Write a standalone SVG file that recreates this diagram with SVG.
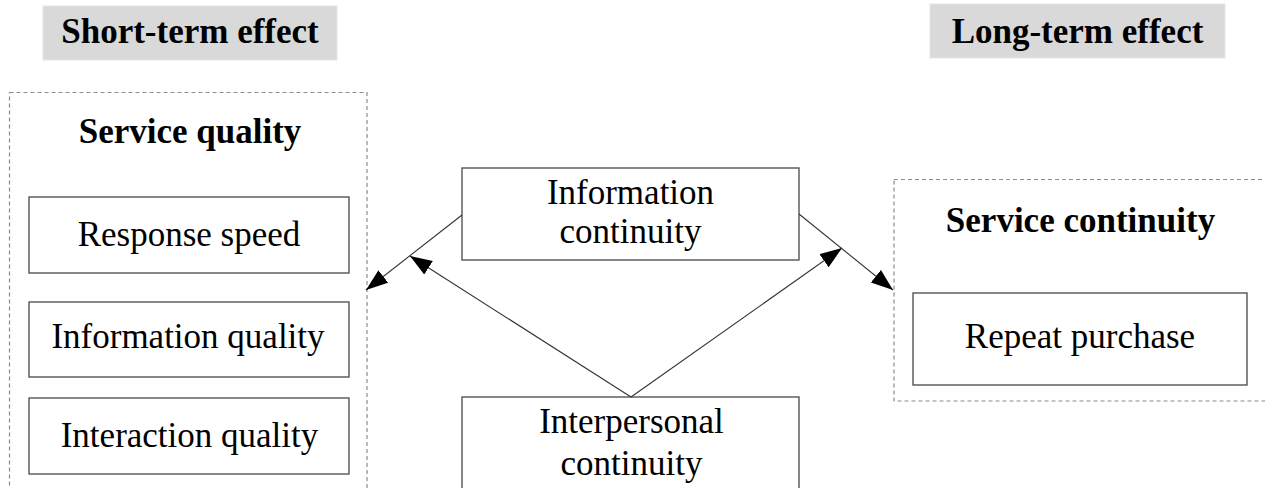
<svg xmlns="http://www.w3.org/2000/svg" width="1265" height="488" viewBox="0 0 1265 488">
<style>
  .hdr { fill: #d9d9d9; stroke: #e6e6e6; stroke-width: 1; }
  .grp { fill: none; stroke: #8c8c8c; stroke-width: 1.2; stroke-dasharray: 4 3; }
  .box { fill: #ffffff; stroke: #555555; stroke-width: 1.4; }
  .t { font-family: 'Times New Roman', 'Liberation Serif', serif; font-size: 35px; fill: #000; text-anchor: middle; }
  .b { font-weight: bold; }
  .conn { stroke: #333333; stroke-width: 1.1; fill: none; marker-end: url(#arr); }
</style>
<defs>
  <marker id="arr" markerUnits="userSpaceOnUse" markerWidth="24" markerHeight="18" refX="22" refY="8" orient="auto">
    <path d="M0,0 L22,8 L0,16 z" fill="#000"/>
  </marker>
</defs>
<rect width="1265" height="488" fill="#ffffff"/>

<g id="short-term-effect">
  <rect class="hdr" x="43" y="6" width="294" height="54"/>
  <text class="t b" x="190" y="43">Short-term effect</text>
</g>
<g id="long-term-effect">
  <rect class="hdr" x="930" y="4" width="295" height="54"/>
  <text class="t b" x="1077.5" y="43">Long-term effect</text>
</g>

<g id="service-quality">
  <rect class="grp" x="9.5" y="92.5" width="357.5" height="420"/>
  <text class="t b" x="190" y="143">Service quality</text>
</g>
<g id="response-speed">
  <rect class="box" x="29" y="197" width="320" height="76"/>
  <text class="t" x="189" y="246">Response speed</text>
</g>
<g id="information-quality">
  <rect class="box" x="29" y="302" width="320" height="75"/>
  <text class="t" x="188" y="348">Information quality</text>
</g>
<g id="interaction-quality">
  <rect class="box" x="29" y="398" width="320" height="76"/>
  <text class="t" x="189.5" y="447">Interaction quality</text>
</g>

<g id="information-continuity">
  <rect class="box" x="462" y="168" width="337" height="92"/>
  <text class="t" x="630.5" y="204">Information</text>
  <text class="t" x="630.5" y="243">continuity</text>
</g>
<g id="interpersonal-continuity">
  <rect class="box" x="462" y="397" width="337" height="110"/>
  <text class="t" x="631.5" y="433">Interpersonal</text>
  <text class="t" x="631.5" y="475">continuity</text>
</g>

<g id="service-continuity">
  <rect class="grp" x="894" y="179.5" width="390" height="221.5"/>
  <text class="t b" x="1080.5" y="232">Service continuity</text>
</g>
<g id="repeat-purchase">
  <rect class="box" x="913" y="293" width="334" height="92"/>
  <text class="t" x="1080" y="348">Repeat purchase</text>
</g>

<g id="connectors">
  <line class="conn" x1="462" y1="215" x2="366" y2="290"/>
  <line class="conn" x1="631" y1="397" x2="410" y2="256"/>
  <line class="conn" x1="631" y1="397" x2="842" y2="248"/>
  <line class="conn" x1="799" y1="214" x2="893" y2="290"/>
</g>
</svg>
